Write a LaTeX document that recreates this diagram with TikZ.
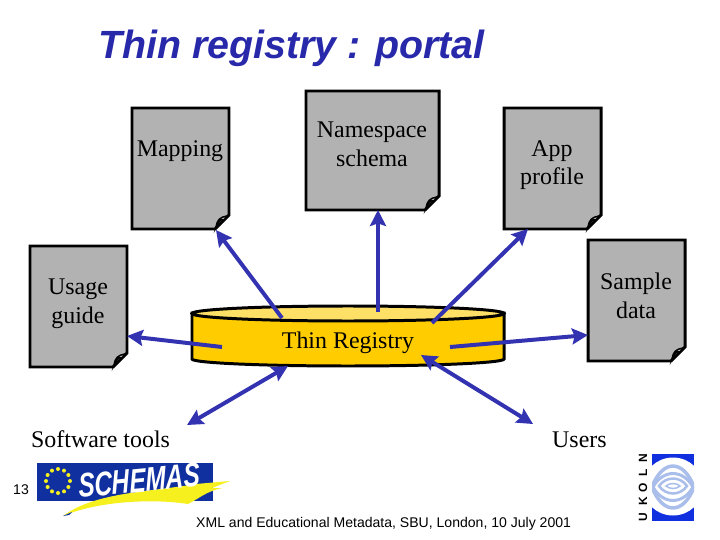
\documentclass[tikz,border=0pt]{standalone}
\usepackage{fontspec}
\setmainfont{Liberation Serif}
\setsansfont{Liberation Sans}
\usetikzlibrary{arrows.meta}
\definecolor{docgray}{RGB}{178,178,178}
\definecolor{arrowblue}{RGB}{51,51,178}
\definecolor{titleblue}{RGB}{40,40,170}
\definecolor{cylgold}{RGB}{255,204,0}
\definecolor{cyltop}{RGB}{255,224,102}
\definecolor{logoblue}{RGB}{16,48,160}
\definecolor{ukblue}{RGB}{16,48,224}
\definecolor{ukpale}{RGB}{170,190,235}
\definecolor{swoosh}{RGB}{245,240,30}
\tikzset{
 doclabel/.style={font=\fontsize{24}{28.7}\selectfont,align=center,inner sep=0pt},
 docpage/.style={fill=docgray,draw=black,line width=3pt,line join=miter},
 conn/.style={draw=arrowblue,line width=4pt,-{Stealth[length=16pt,width=16pt,inset=2.5pt]}},
 connboth/.style={draw=arrowblue,line width=4pt,{Stealth[length=16pt,width=16pt,inset=2.5pt]}-{Stealth[length=16pt,width=16pt,inset=2.5pt]}},
 foot/.style={font=\sffamily\fontsize{14.1}{16}\selectfont,inner sep=0pt},
}
\newcommand{\docshape}[5]{%
 \draw[docpage] (#2,#3) -- (#4,#3) -- (#4,#5-14) -- (#4-14,#5) -- (#2,#5) -- cycle;
 \draw[black,line width=1.5pt,fill=docgray] (#4-13,#5-2) .. controls (#4-12,#5-9) and (#4-9,#5-12) .. (#4-2,#5-13) -- (#4-5,#5-9) .. controls (#4-9,#5-10) and (#4-10,#5-8) .. cycle;
}
\newcommand{\lens}[4]{%
 \draw[ukpale,line width=#4] (673-#1,#3) .. controls (673-#1*0.5,#3-#2*1.33) and (673+#1*0.5,#3-#2*1.33) .. (673+#1,#3) .. controls (673+#1*0.5,#3+#2*1.33) and (673-#1*0.5,#3+#2*1.33) .. cycle;
}
\begin{document}
\begin{tikzpicture}[x=1bp,y=-1bp]
\useasboundingbox (0,0) rectangle (720,540);
\fill[white] (0,0) rectangle (720,540);
\node[anchor=base west,inner sep=0pt,text=titleblue,font=\sffamily\itshape\bfseries\fontsize{39.5}{44}\selectfont] (title) at (98,59) {Thin registry : portal};
% documents
\docshape{mapdoc}{132}{108}{229}{229}
\docshape{nsdoc}{306}{91}{439}{210}
\docshape{appdoc}{504}{108}{601}{229}
\docshape{usedoc}{30}{246}{127}{367}
\docshape{sampledoc}{588}{240}{685}{361}
\node[doclabel] (maplab) at (180,151) {Mapping};
\node[doclabel] (nslab) at (372,144.5) {Namespace\\schema};
\node[doclabel] (applab) at (552,165) {App\\profile};
\node[doclabel] (uselab) at (78,303.5) {Usage\\guide};
\node[doclabel] (samplelab) at (636,296) {Sample\\data};
% registry
\draw[black,line width=3pt,fill=cylgold] (192,313) -- (192,359) arc[start angle=180,end angle=0,x radius=156,y radius=7] -- (504,313) -- cycle;
\draw[black,line width=3pt,fill=cyltop] (348,313.5) ellipse[x radius=156,y radius=7.5];
\node[doclabel,text=black] (reg) at (348,343) {Thin Registry};
\coordinate (regmap) at (282,318);
\coordinate (regns) at (378,312);
\coordinate (regapp) at (432,323);
\coordinate (regsample) at (450,347);
\coordinate (regusage) at (222,347);
\coordinate (regsw) at (288,366);
\coordinate (regusers) at (421,355);
\coordinate (endsw) at (187,425);
\coordinate (endusers) at (533,424);
\coordinate (endmap) at (216,230);
\coordinate (endns) at (378,210);
\coordinate (endapp) at (528,229);
\coordinate (endsample) at (588,335);
\coordinate (endusage) at (127,336);
\draw[conn] (regmap) -- (endmap);
\draw[conn] (regns) -- (endns);
\draw[conn] (regapp) -- (endapp);
\draw[conn] (regsample) -- (endsample);
\draw[conn] (regusage) -- (endusage);
\draw[connboth] (endsw) -- (regsw);
\draw[connboth] (endusers) -- (regusers);
\node[doclabel,anchor=base west] (sw) at (31,447) {Software tools};
\node[doclabel,anchor=base west] (users) at (552,447) {Users};
% SCHEMAS logo
\fill[logoblue] (37,463) rectangle (213,501);
\foreach \a in {0,30,...,330}{\fill[swoosh] ({58+12*cos(\a)},{481+12*sin(\a)}) circle[radius=2];}
\fill[swoosh] (63,516) .. controls (95,492) and (150,492) .. (196,484) -- (230,481) -- (212,488) -- (222,488) .. controls (205,492) and (200,498) .. (188,504) .. controls (150,498) and (95,502) .. cycle;
\fill[logoblue] (63,516) -- (72,512) -- (69,515) -- cycle;
\node[anchor=base west,inner sep=0pt,text=white,font=\sffamily\itshape\bfseries\fontsize{34}{36}\selectfont,xscale=0.72,rotate=4] (schemas) at (79,498) {SCHEMAS};
% UKOLN logo
\begin{scope}
\clip (652,454) rectangle (694,521);
\fill[ukblue] (652,454) rectangle (694,521);
\fill[white] (673,486.5) ellipse[x radius=30,y radius=29];
\lens{21}{21}{487}{3.5pt}
\lens{20}{13.5}{487}{3pt}
\lens{14}{7.5}{486}{2.5pt}
\lens{7}{2.5}{486}{1.5pt}
\end{scope}
\foreach \t/\y in {U/517,K/501,O/488,L/473,N/458}{\node[rotate=90,inner sep=0pt,font=\sffamily\bfseries\fontsize{12}{14}\selectfont] at (643,\y) {\t};}
% footer
\node[foot,anchor=base west] (pg) at (13,494) {13};
\node[foot,anchor=base west] (ft) at (196,527) {XML and Educational Metadata, SBU, London, 10 July 2001};
\end{tikzpicture}
\end{document}
